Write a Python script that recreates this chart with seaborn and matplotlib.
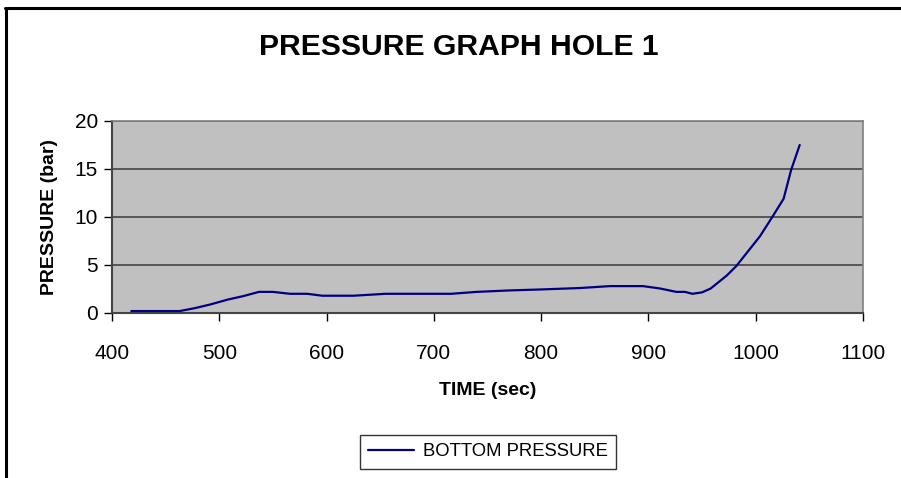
import matplotlib
matplotlib.use("Agg")
import matplotlib.pyplot as plt
import seaborn as sns
import pandas as pd
from matplotlib.lines import Line2D

time_sec = [418, 430, 445, 463, 477, 492, 508, 522, 537, 550, 566, 582, 596, 610,
            625, 640, 655, 670, 685, 700, 716, 740, 770, 799, 836, 864, 895, 911,
            926, 934, 941, 950, 958, 973, 982, 1004, 1016, 1026, 1033, 1041]
pressure_bar = [0.2, 0.2, 0.2, 0.2, 0.5, 0.9, 1.4, 1.75, 2.2, 2.2, 2.0, 2.0, 1.8, 1.8,
                1.8, 1.9, 2.0, 2.0, 2.0, 2.0, 2.0, 2.2, 2.35, 2.45, 2.6, 2.8, 2.8, 2.55,
                2.2, 2.2, 2.0, 2.15, 2.55, 3.9, 4.9, 8.0, 10.1, 11.9, 14.9, 17.5]
series_name = "BOTTOM PRESSURE"
x_ticks = [400, 500, 600, 700, 800, 900, 1000, 1100]
y_ticks = [0, 5, 10, 15, 20]

sns.set_style("white")
plt.rcParams['font.family'] = ['Liberation Sans', 'DejaVu Sans']
plt.rcParams['text.color'] = 'black'
plt.rcParams['axes.labelcolor'] = 'black'
plt.rcParams['xtick.color'] = 'black'
plt.rcParams['ytick.color'] = 'black'

df = pd.DataFrame({"TIME": time_sec, "PRESSURE": pressure_bar, "series": series_name})

fig = plt.figure(figsize=(9.01, 4.78), dpi=100)
ax = fig.add_axes([112/901, 1-313/478, (863-112)/901, (313-121)/478])
ax.set_facecolor("#C0C0C0")

sns.lineplot(data=df, x="TIME", y="PRESSURE", hue="series", palette=["#000080"],
             linewidth=1.6, ax=ax, sort=False)

ax.set_xlim(400, 1100)
ax.set_ylim(0, 20)
ax.set_xticks(x_ticks)
ax.set_yticks(y_ticks)
ax.set_xticklabels([str(t) for t in x_ticks], fontsize=15)
ax.set_yticklabels([str(t) for t in y_ticks], fontsize=15)
ax.tick_params(axis="both", direction="out", length=6, width=1,
               bottom=True, left=True)
ax.tick_params(axis="x", pad=16, colors="black")
ax.tick_params(axis="y", pad=4, colors="black")
for t in ax.get_xticklines() + ax.get_yticklines():
    t.set_color("#333333")

for yv in y_ticks[1:]:
    ax.axhline(yv, color="#4d4d4d", linewidth=1.3, zorder=0.5)

for side in ["left", "bottom"]:
    ax.spines[side].set_color("#444444")
    ax.spines[side].set_linewidth(1.5)
for side in ["right", "top"]:
    ax.spines[side].set_visible(True)
    ax.spines[side].set_color("#808080")
    ax.spines[side].set_linewidth(1.2)

ax.set_xlabel("TIME (sec)", fontsize=14, fontweight="bold", labelpad=14, color="black")
ax.set_ylabel("PRESSURE (bar)", fontsize=14, fontweight="bold", labelpad=12, color="black")

fig.text(459/901, 1-47/478, "PRESSURE GRAPH HOLE 1", ha="center", va="center",
         fontsize=21.7, fontweight="bold", color="black")

leg = ax.legend(loc="center", bbox_to_anchor=(488/901, 1-452/478),
                bbox_transform=fig.transFigure, frameon=True, fancybox=False,
                fontsize=13.3, handlelength=2.5, borderpad=0.45, handletextpad=0.45,
                borderaxespad=0)
leg.get_frame().set_edgecolor("black")
leg.get_frame().set_linewidth(1.0)
leg.set_title(None)
for txt in leg.get_texts():
    txt.set_color("black")

fig.add_artist(Line2D([6/901, 6/901], [0, 1-7.5/478], transform=fig.transFigure,
                      color="black", linewidth=2.2))
fig.add_artist(Line2D([5/901, 1], [1-7.5/478, 1-7.5/478], transform=fig.transFigure,
                      color="black", linewidth=2.2))

fig.savefig("out.png", dpi=100)
